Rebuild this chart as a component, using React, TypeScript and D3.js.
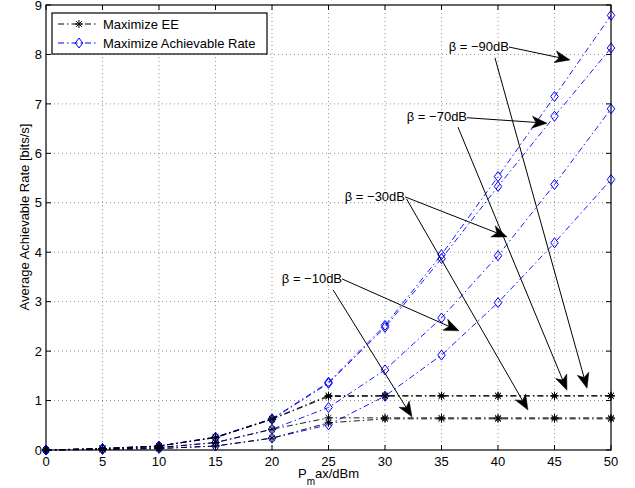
import React from "react";
import * as d3 from "d3";

const xs = [0, 5, 10, 15, 20, 25, 30, 35, 40, 45, 50];
const rateM90 = [0, 0.03, 0.08, 0.26, 0.63, 1.37, 2.52, 3.95, 5.53, 7.15, 8.79];
const rateM70 = [0, 0.03, 0.08, 0.25, 0.62, 1.35, 2.48, 3.87, 5.33, 6.75, 8.13];
const rateM30 = [0, 0.02, 0.05, 0.15, 0.42, 0.86, 1.62, 2.67, 3.93, 5.37, 6.9];
const rateM10 = [0, 0.01, 0.03, 0.08, 0.24, 0.51, 1.09, 1.92, 2.98, 4.19, 5.47];
const eeM90 = [0, 0.03, 0.08, 0.26, 0.63, 1.1, 1.1, 1.1, 1.1, 1.1, 1.1];
const eeM70 = [0, 0.03, 0.08, 0.25, 0.62, 1.08, 1.09, 1.09, 1.09, 1.09, 1.09];
const eeM30 = [0, 0.02, 0.05, 0.15, 0.42, 0.65, 0.65, 0.65, 0.65, 0.65, 0.65];
const eeM10 = [0, 0.01, 0.03, 0.08, 0.24, 0.55, 0.63, 0.63, 0.63, 0.63, 0.63];

const xTicks = [0, 5, 10, 15, 20, 25, 30, 35, 40, 45, 50];
const yTicks = [0, 1, 2, 3, 4, 5, 6, 7, 8, 9];

const legendLabels = ["Maximize EE", "Maximize Achievable Rate"];

// annotations: label, label anchor (data coords, right end), arrows [from, to]
const annotations = [
  { label: "β = −90dB", at: [40.97, 8.17], arrows: [[[40.97, 8.15], [46.37, 7.89]], [[39.73, 7.93], [47.88, 1.25]]] },
  { label: "β = −70dB", at: [37.26, 6.74], arrows: [[[37.26, 6.72], [44.34, 6.61]], [[36.46, 6.53], [46.1, 1.21]]] },
  { label: "β = −30dB", at: [31.77, 5.14], arrows: [[[31.77, 5.12], [40.8, 4.31]], [[31.9, 5.08], [42.65, 0.81]]] },
  { label: "β = −10dB", at: [26.2, 3.48], arrows: [[[26.2, 3.46], [36.55, 2.41]], [[25.4, 3.24], [32.39, 0.67]]] },
];

const FONT = "'Liberation Sans', Arial, Helvetica, sans-serif";
const BLUE = "#0000ff";
const DASH = "6,3,1.5,3";
const FS = 13;

const L = 46, R = 611, T = 5, B = 450;
const x = d3.scaleLinear().domain([0, 50]).range([L, R]);
const y = d3.scaleLinear().domain([0, 9]).range([B, T]);

const line = d3.line<number>().x((_, i) => x(xs[i])).y((d) => y(d));

function Star({ cx, cy, r = 4 }: { cx: number; cy: number; r?: number }) {
  const d = [0, 45, 90, 135].map((a) => {
    const rad = (a * Math.PI) / 180;
    const dx = r * Math.cos(rad), dy = r * Math.sin(rad);
    return `M${cx - dx},${cy - dy}L${cx + dx},${cy + dy}`;
  }).join("");
  return <path d={d} stroke="#000" strokeWidth={1} fill="none" />;
}

function Diamond({ cx, cy, r = 5 }: { cx: number; cy: number; r?: number }) {
  return <path d={`M${cx},${cy - r}L${cx + r * 0.75},${cy}L${cx},${cy + r}L${cx - r * 0.75},${cy}Z`} stroke={BLUE} strokeWidth={1} fill="none" />;
}

function Arrow({ from, to }: { from: number[]; to: number[] }) {
  const x1 = x(from[0]), y1 = y(from[1]), x2 = x(to[0]), y2 = y(to[1]);
  const ang = Math.atan2(y2 - y1, x2 - x1);
  const len = 15, half = 6, notch = 11;
  const ux = Math.cos(ang), uy = Math.sin(ang);
  const px = -uy, py = ux;
  const bx = x2 - ux * len, by = y2 - uy * len;
  const nx = x2 - ux * notch, ny = y2 - uy * notch;
  const head = `M${x2},${y2}L${bx + px * half},${by + py * half}L${nx},${ny}L${bx - px * half},${by - py * half}Z`;
  return (
    <g>
      <line x1={x1} y1={y1} x2={nx} y2={ny} stroke="#000" strokeWidth={1} />
      <path d={head} fill="#000" stroke="#000" strokeWidth={0.5} />
    </g>
  );
}

export default function App() {
  const rates = [rateM90, rateM70, rateM30, rateM10];
  const ees = [eeM90, eeM70, eeM30, eeM10];
  return (
    <svg width={635} height={488} style={{ position: "absolute", left: 0, top: 0, background: "#fff" }} fontFamily={FONT}>
      <rect x={0} y={0} width={635} height={488} fill="#fff" />
      {/* grid */}
      {xTicks.slice(1, -1).map((t) => (
        <line key={"gx" + t} x1={x(t)} x2={x(t)} y1={T} y2={B} stroke="#777" strokeWidth={0.8} strokeDasharray="1,3" />
      ))}
      {yTicks.slice(1, -1).map((t) => (
        <line key={"gy" + t} x1={L} x2={R} y1={y(t)} y2={y(t)} stroke="#777" strokeWidth={0.8} strokeDasharray="1,3" />
      ))}
      {/* ticks */}
      {xTicks.map((t) => (
        <g key={"tx" + t}>
          <line x1={x(t)} x2={x(t)} y1={B} y2={B - 5} stroke="#000" />
          <line x1={x(t)} x2={x(t)} y1={T} y2={T + 5} stroke="#000" />
          <text x={x(t)} y={466} fontSize={FS} textAnchor="middle">{t}</text>
        </g>
      ))}
      {yTicks.map((t) => (
        <g key={"ty" + t}>
          <line x1={L} x2={L + 5} y1={y(t)} y2={y(t)} stroke="#000" />
          <line x1={R} x2={R - 5} y1={y(t)} y2={y(t)} stroke="#000" />
          <text x={42} y={y(t) + 4.7} fontSize={FS} textAnchor="end">{t}</text>
        </g>
      ))}
      {/* series */}
      {rates.map((s, i) => (
        <path key={"r" + i} d={line(s) || ""} fill="none" stroke={BLUE} strokeWidth={0.9} strokeDasharray={DASH} />
      ))}
      {ees.map((s, i) => (
        <path key={"e" + i} d={line(s) || ""} fill="none" stroke="#000" strokeWidth={0.9} strokeDasharray={DASH} />
      ))}
      {rates.map((s, i) => s.map((v, j) => <Diamond key={`d${i}-${j}`} cx={x(xs[j])} cy={y(v)} />))}
      {ees.map((s, i) => s.map((v, j) => <Star key={`s${i}-${j}`} cx={x(xs[j])} cy={y(v)} />))}
      {/* annotations */}
      {annotations.map((a) => (
        <g key={a.label}>
          <text x={x(a.at[0])} y={y(a.at[1]) + 4.7} fontSize={FS} textAnchor="end">{a.label}</text>
          {a.arrows.map((ar, k) => <Arrow key={k} from={ar[0]} to={ar[1]} />)}
        </g>
      ))}
      {/* axes box */}
      <rect x={L} y={T} width={R - L} height={B - T} fill="none" stroke="#000" strokeWidth={1.2} />
      {/* legend */}
      <g>
        <rect x={52} y={13} width={215} height={41} fill="#fff" stroke="#000" strokeWidth={1.2} />
        <line x1={58} x2={98} y1={24} y2={24} stroke="#000" strokeDasharray={DASH} />
        <Star cx={79} cy={24} />
        <text x={103} y={28.5} fontSize={FS}>{legendLabels[0]}</text>
        <line x1={58} x2={98} y1={43} y2={43} stroke={BLUE} strokeDasharray={DASH} />
        <Diamond cx={79} cy={43} />
        <text x={103} y={47.5} fontSize={FS}>{legendLabels[1]}</text>
      </g>
      {/* axis labels */}
      <text x={298} y={478} fontSize={FS}>
        <tspan>P</tspan>
        <tspan dy={7} fontSize={10}>m</tspan>
        <tspan dy={-7}>ax/dBm</tspan>
      </text>
      <text transform="translate(29,217) rotate(-90)" fontSize={FS} textAnchor="middle">Average Achievable Rate [bits/s]</text>
    </svg>
  );
}
